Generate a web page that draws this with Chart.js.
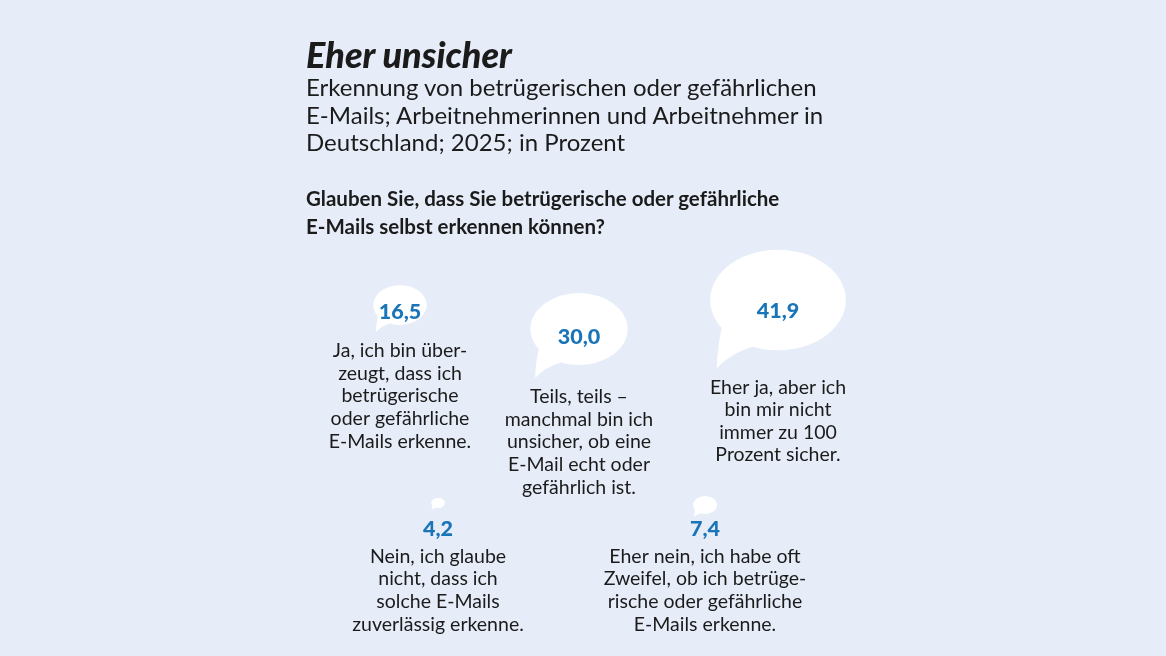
<!DOCTYPE html>
<html lang="de">
<head>
<meta charset="utf-8">
<title>Eher unsicher</title>
<script src="https://cdn.jsdelivr.net/npm/chart.js@4"></script>
<style>
  html, body { margin: 0; padding: 0; }
  body {
    width: 1166px; height: 656px; overflow: hidden; position: relative;
    background: #e6ecf8;
    font-family: Lato, "Noto Sans", sans-serif;
    color: #1b1b1b;
  }
  #wrap { position: absolute; left: 0; top: 0; width: 1166px; height: 656px; }
  .head { position: absolute; left: 306px; top: 34px; }
  .head h1 { margin: 0; font-size: 36px; font-style: italic; font-weight: 900; line-height: 40px; }
  .head p { margin: -1px 0 0; font-size: 24px; line-height: 27.5px; }
  .head h2 { margin: 28px 0 0; font-size: 20.5px; font-weight: 700; line-height: 28px; }
</style>
</head>
<body>
<div id="wrap"><canvas id="chart"></canvas></div>
<div class="head">
  <h1>Eher unsicher</h1>
  <p>Erkennung von betrügerischen oder gefährlichen<br>E-Mails; Arbeitnehmerinnen und Arbeitnehmer in<br>Deutschland; 2025; in Prozent</p>
  <h2>Glauben Sie, dass Sie betrügerische oder gefährliche<br>E-Mails selbst erkennen können?</h2>
</div>
<script>
// Werte in Prozent
const answers = ['Ja', 'Eher ja', 'Teils, teils', 'Eher nein', 'Nein'];
const values = [16.5, 41.9, 30.0, 7.4, 4.2];
const descriptions = [
  ['Ja, ich bin über-', 'zeugt, dass ich', 'betrügerische', 'oder gefährliche', 'E-Mails erkenne.'],
  ['Eher ja, aber ich', 'bin mir nicht', 'immer zu 100', 'Prozent sicher.'],
  ['Teils, teils –', 'manchmal bin ich', 'unsicher, ob eine', 'E-Mail echt oder', 'gefährlich ist.'],
  ['Eher nein, ich habe oft', 'Zweifel, ob ich betrüge-', 'rische oder gefährliche', 'E-Mails erkenne.'],
  ['Nein, ich glaube', 'nicht, dass ich', 'solche E-Mails', 'zuverlässig erkenne.']
];

// Anordnung der Sprechblasen (Pixelraster der Seite)
const layoutX = [400, 778, 579, 705, 438];
const layoutY = [305, 300, 329, 505, 503];

const SCALE = 1.62;      // Radius pro Prozentpunkt
const BLUE = '#1a74b8';
const fmt = v => v.toFixed(1).replace('.', ',');

// Sprechblase: Ellipse mit Zipfel unten links
function speechBubble(ctx, x, y, rx, ry) {
  ctx.beginPath();
  const a0 = 1.95, a1 = 2.55;  // Ansatz des Zipfels (Winkel)
  ctx.ellipse(x, y, rx, ry, 0, a1, a0 + Math.PI * 2, false);
  const tx = x - rx * 0.9, ty = y + ry * 1.36;
  ctx.quadraticCurveTo(x - rx * 0.7, y + ry * 1.05, tx, ty);
  const cx = x + rx * Math.cos(a1), cy = y + ry * Math.sin(a1);
  ctx.quadraticCurveTo(x - rx * 0.9, y + ry * 1.0, cx, cy);
  ctx.closePath();
  ctx.fill();
}

const bubblePlugin = {
  id: 'speechBubbles',
  afterDatasetsDraw(chart) {
    const ctx = chart.ctx;
    const meta = chart.getDatasetMeta(0);
    ctx.save();
    meta.data.forEach((el, i) => {
      const rx = el.options.radius;
      const ry = rx * 0.74;
      ctx.fillStyle = '#ffffff';
      speechBubble(ctx, el.x, el.y, rx, ry);

      ctx.textAlign = 'center';
      ctx.textBaseline = 'middle';
      let numY, textY;
      if (rx > 20) {
        numY = el.y + Math.max(ry * 0.22, 7);
        textY = el.y + ry * 1.36 + 19;
      } else {
        numY = 529;
        textY = numY + 27.5;
      }
      ctx.fillStyle = BLUE;
      ctx.font = '900 21.5px Lato, "Noto Sans", sans-serif';
      ctx.fillText(fmt(values[i]), el.x, numY);

      ctx.fillStyle = '#1b1b1b';
      ctx.font = '19.5px Lato, "Noto Sans", sans-serif';
      descriptions[i].forEach((line, k) => {
        ctx.fillText(line, el.x, textY + k * 22.6);
      });
    });
    ctx.restore();
  }
};

new Chart(document.getElementById('chart'), {
  type: 'bubble',
  data: {
    labels: answers,
    datasets: [{
      label: 'Anteil',
      data: values.map((v, i) => ({ x: layoutX[i], y: layoutY[i], r: v * SCALE })),
      backgroundColor: 'rgba(0,0,0,0)',
      borderWidth: 0
    }]
  },
  options: {
    responsive: true,
    maintainAspectRatio: false,
    animation: false,
    events: [],
    layout: { padding: 0, autoPadding: false },
    plugins: { legend: { display: false }, tooltip: { enabled: false } },
    scales: {
      x: { type: 'linear', min: 0, max: 1166, display: false },
      y: { type: 'linear', min: 0, max: 656, reverse: true, display: false }
    }
  },
  plugins: [bubblePlugin]
});
</script>
</body>
</html>
